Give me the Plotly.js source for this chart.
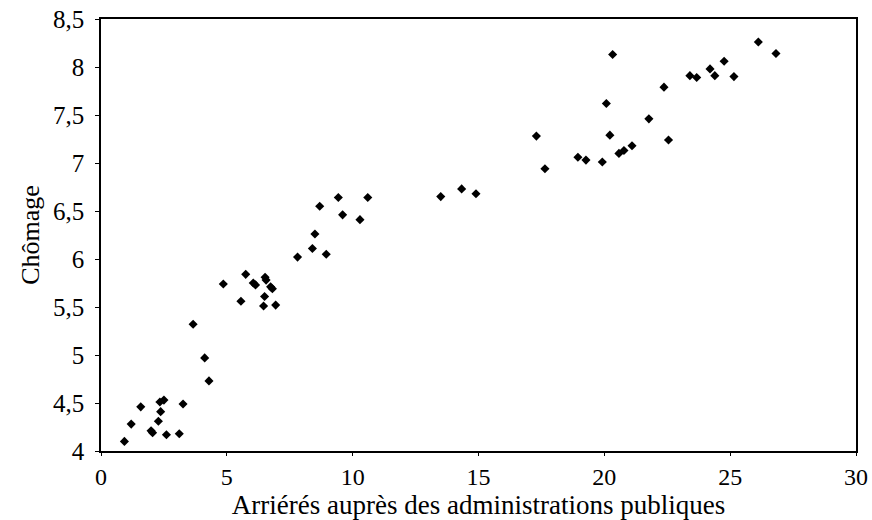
<!DOCTYPE html>
<html>
<head>
<meta charset="utf-8">
<script src="https://cdn.plot.ly/plotly-3.0.1.min.js"></script>
<style>html,body{margin:0;padding:0;background:#fff;}#chart{width:872px;height:520px;}</style>
</head>
<body>
<div id="chart"></div>
<script>
const arrieres = [0.93,1.20,1.58,1.99,2.05,2.28,2.37,2.34,2.50,2.60,3.11,3.26,3.66,4.12,4.29,4.86,5.56,5.75,6.05,6.14,6.52,6.56,6.74,6.81,6.50,6.46,6.94,7.81,8.40,8.50,8.95,8.69,9.43,9.60,10.29,10.60,13.50,14.33,14.90,17.30,17.64,18.95,19.27,19.92,20.08,20.22,20.58,20.78,21.10,21.77,20.33,22.37,22.55,23.40,23.67,24.20,24.39,24.76,25.15,26.12,26.82];
const chomage = [4.10,4.28,4.46,4.21,4.19,4.31,4.41,4.51,4.53,4.17,4.18,4.49,5.32,4.97,4.73,5.74,5.56,5.84,5.75,5.73,5.81,5.78,5.71,5.69,5.61,5.51,5.52,6.02,6.11,6.26,6.05,6.55,6.64,6.46,6.41,6.64,6.65,6.73,6.68,7.28,6.94,7.06,7.03,7.01,7.62,7.29,7.10,7.13,7.18,7.46,8.13,7.79,7.24,7.91,7.89,7.98,7.91,8.06,7.90,8.26,8.14];
const xTickVals = [0,5,10,15,20,25,30];
const xTickText = ["0","5","10","15","20","25","30"];
const yTickVals = [4,4.5,5,5.5,6,6.5,7,7.5,8,8.5];
const yTickText = ["4","4,5","5","5,5","6","6,5","7","7,5","8","8,5"];

const font = "'Liberation Serif', 'Times New Roman', serif";
Plotly.newPlot("chart", [{
  x: arrieres, y: chomage, type: "scatter", mode: "markers",
  marker: {symbol: "diamond", color: "#000", size: 7},
  hoverinfo: "x+y"
}], {
  width: 872, height: 520,
  margin: {l: 101, r: 16, t: 19, b: 69},
  paper_bgcolor: "#fff", plot_bgcolor: "#fff",
  showlegend: false,
  font: {family: font, color: "#000", size: 25},
  xaxis: {
    range: [0, 30], tickvals: xTickVals, ticktext: xTickText,
    showgrid: false, zeroline: false, showline: true, mirror: true,
    linecolor: "#000", linewidth: 1.5, ticks: "outside", ticklen: 3, tickcolor: "#000",
    tickfont: {family: font, size: 24, color: "#000"},
    title: {text: "Arriérés auprès des administrations publiques", font: {family: font, size: 27, color: "#000"}, standoff: 3}
  },
  yaxis: {
    range: [4, 8.5], tickvals: yTickVals, ticktext: yTickText,
    showgrid: false, zeroline: false, showline: true, mirror: true,
    linecolor: "#000", linewidth: 1.5, ticks: "outside", ticklen: 4, tickcolor: "#000",
    ticklabelstandoff: 6,
    tickfont: {family: font, size: 25, color: "#000"},
    title: {text: "Chômage", font: {family: font, size: 26, color: "#000"}, standoff: 6}
  }
}, {displayModeBar: false});
</script>
</body>
</html>
